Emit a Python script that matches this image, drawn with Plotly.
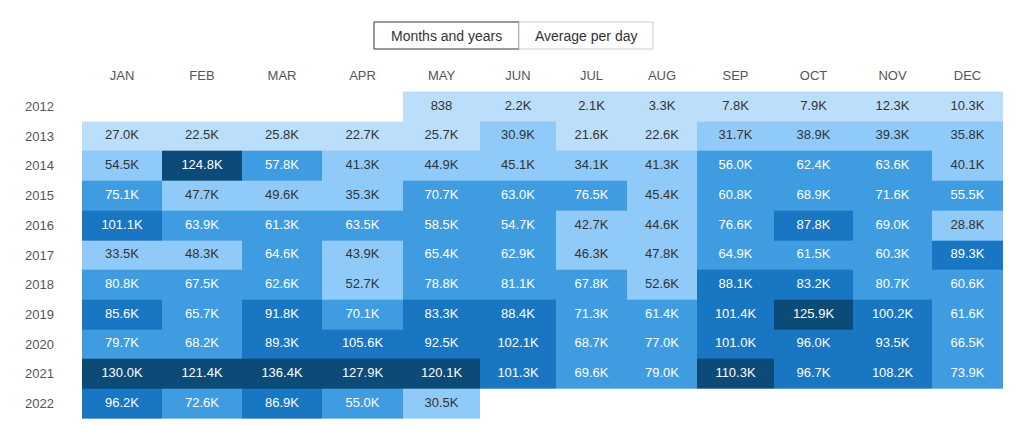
import plotly.graph_objects as go

months = ["JAN", "FEB", "MAR", "APR", "MAY", "JUN", "JUL", "AUG", "SEP", "OCT", "NOV", "DEC"]
years = ["2012", "2013", "2014", "2015", "2016", "2017", "2018", "2019", "2020", "2021", "2022"]

v2012 = [None, None, None, None, 838, 2200, 2100, 3300, 7800, 7900, 12300, 10300]
v2013 = [27000, 22500, 25800, 22700, 25700, 30900, 21600, 22600, 31700, 38900, 39300, 35800]
v2014 = [54500, 124800, 57800, 41300, 44900, 45100, 34100, 41300, 56000, 62400, 63600, 40100]
v2015 = [75100, 47700, 49600, 35300, 70700, 63000, 76500, 45400, 60800, 68900, 71600, 55500]
v2016 = [101100, 63900, 61300, 63500, 58500, 54700, 42700, 44600, 76600, 87800, 69000, 28800]
v2017 = [33500, 48300, 64600, 43900, 65400, 62900, 46300, 47800, 64900, 61500, 60300, 89300]
v2018 = [80800, 67500, 62600, 52700, 78800, 81100, 67800, 52600, 88100, 83200, 80700, 60600]
v2019 = [85600, 65700, 91800, 70100, 83300, 88400, 71300, 61400, 101400, 125900, 100200, 61600]
v2020 = [79700, 68200, 89300, 105600, 92500, 102100, 68700, 77000, 101000, 96000, 93500, 66500]
v2021 = [130000, 121400, 136400, 127900, 120100, 101300, 69600, 79000, 110300, 96700, 108200, 73900]
v2022 = [96200, 72600, 86900, 55000, 30500, None, None, None, None, None, None, None]

values = [v2012, v2013, v2014, v2015, v2016, v2017, v2018, v2019, v2020, v2021, v2022]

# ---- styling ----
col_widths = [80, 80, 80, 81, 77, 76, 71, 70, 77, 79, 79, 71]  # layout: pixel widths of table columns
colors = ["#bbdefb", "#90caf9", "#3f9ce0", "#1976c2", "#0c4a77"]
text_colors = ["#333333", "#333333", "#ffffff", "#ffffff", "#ffffff"]
FONT = "Liberation Sans"

# page body has an 8px margin, so the figure is made smaller and shifted
PAGE_OFF = 8
FIG_W, FIG_H = 1030 - 2 * PAGE_OFF, 446 - 2 * PAGE_OFF
GRID_L, GRID_T, GRID_R, GRID_B = 82, 90, 1003, 420  # page pixels
ML, MT = GRID_L - PAGE_OFF, GRID_T - PAGE_OFF
MR, MB = FIG_W - (GRID_R - PAGE_OFF), FIG_H - (GRID_B - PAGE_OFF)

edges = [0]
for w in col_widths:
    edges.append(edges[-1] + w)
centers = [(edges[i] + edges[i + 1]) / 2 for i in range(len(col_widths))]

all_vals = [v for row in values for v in row if v is not None]
zmax = max(all_vals)
nbins = len(colors)

colorscale = []
for i, c in enumerate(colors):
    colorscale.append([i / nbins, c])
    colorscale.append([(i + 1) / nbins, c])


def fmt(v):
    if v < 1000:
        return str(int(v))
    return f"{v / 1000:.1f}K"


tx, ty, tt, tc = [], [], [], []
for yi, row in enumerate(values):
    for mi, v in enumerate(row):
        if v is None:
            continue
        tx.append(centers[mi])
        ty.append(years[yi])
        tt.append(fmt(v))
        lvl = min(int(v / zmax * nbins), nbins - 1)
        tc.append(text_colors[lvl])

fig = go.Figure()
fig.add_trace(go.Heatmap(
    z=values, x=edges, y=years,
    colorscale=colorscale, zmin=0, zmax=zmax,
    showscale=False, xgap=0, ygap=0, hoverinfo="skip",
))
fig.add_trace(go.Scatter(
    x=tx, y=ty, mode="text", text=tt,
    textfont=dict(family=FONT, size=13, color=tc),
    hoverinfo="skip", showlegend=False,
))

fig.update_layout(
    width=FIG_W, height=FIG_H,
    margin=dict(l=ML, r=MR, t=MT, b=MB),
    paper_bgcolor="white", plot_bgcolor="white",
    showlegend=False,
    xaxis=dict(
        range=[edges[0], edges[-1]], side="top",
        tickvals=centers, ticktext=months,
        showgrid=False, zeroline=False, showline=False, ticks="",
        tickfont=dict(family=FONT, size=13, color="#555555"),
        ticklabelstandoff=6, fixedrange=True,
    ),
    yaxis=dict(
        type="category", autorange="reversed",
        showgrid=False, zeroline=False, showline=False, ticks="",
        tickfont=dict(family=FONT, size=13, color="#555555"),
        ticklabelstandoff=27, fixedrange=True,
    ),
)

plot_w = GRID_R - GRID_L
plot_h = GRID_B - GRID_T


def px2paper_x(px):
    return (px - GRID_L) / plot_w


def px2paper_y(py):
    return (GRID_B - py) / plot_h


buttons = [("Months and years", 374, 519, "#333333"), ("Average per day", 519, 653, "#cccccc")]
for label, x0, x1, bc in buttons:
    fig.add_shape(type="rect", xref="paper", yref="paper",
                  x0=px2paper_x(x0), x1=px2paper_x(x1),
                  y0=px2paper_y(49), y1=px2paper_y(22),
                  line=dict(color=bc, width=1), fillcolor="white", layer="above")
    fig.add_annotation(xref="paper", yref="paper",
                       x=px2paper_x((x0 + x1) / 2), y=px2paper_y(35.5),
                       text=label, showarrow=False,
                       font=dict(family=FONT, size=14, color="#333333"),
                       xanchor="center", yanchor="middle")

fig.write_html("out.html")
